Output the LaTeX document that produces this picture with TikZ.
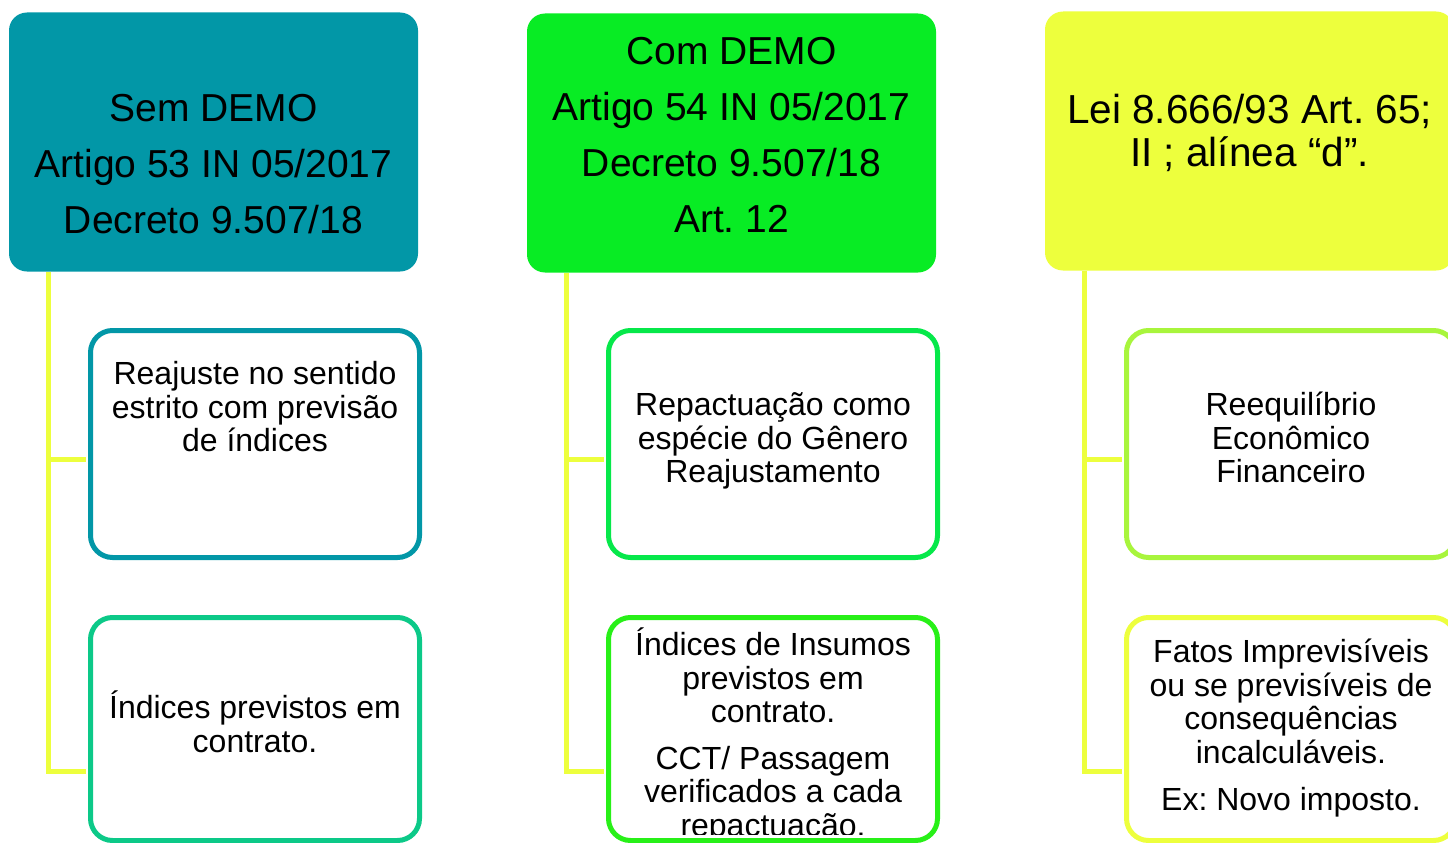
\documentclass[tikz,border=0pt]{standalone}
\usepackage{fontspec}
\setmainfont{Liberation Sans}
\frenchspacing
\definecolor{teal1}{RGB}{2,151,167}
\definecolor{green1}{RGB}{8,236,36}
\definecolor{yel1}{RGB}{237,255,61}
\definecolor{bAone}{RGB}{2,151,167}
\definecolor{bAtwo}{RGB}{12,201,136}
\definecolor{bBone}{RGB}{6,232,74}
\definecolor{bBtwo}{RGB}{40,240,24}
\definecolor{bCone}{RGB}{168,245,60}
\definecolor{bCtwo}{RGB}{237,255,61}
\tikzset{
  topbox/.style={rounded corners=18pt, minimum width=409pt, minimum height=259pt, inner sep=0pt},
  subbox/.style={draw, line width=5pt, rounded corners=22pt, minimum width=329pt, inner sep=0pt, fill=white},
  link/.style={draw=yel1, line width=5pt, shorten >=2.5pt},
  bigtxt/.style={inner sep=0pt, anchor=base, font=\fontsize{39}{56}\selectfont},
  lawtxt/.style={inner sep=0pt, anchor=base, font=\fontsize{40.5}{43}\selectfont},
  smalltxt/.style={inner sep=0pt, anchor=base, font=\fontsize{32}{33.5}\selectfont},
}
\begin{document}
\begin{tikzpicture}[x=1pt,y=-1pt]
\useasboundingbox (0,0) rectangle (1448,843);
\clip (0,0) rectangle (1448,843);
% top boxes
\node[topbox, fill=teal1] (top1) at (213.5,142) {};
\node[topbox, fill=green1] (top2) at (731.5,143) {};
\node[topbox, fill=yel1] (top3) at (1249.5,141) {};
% link start points
\coordinate (l1) at (48.5,271.5);
\coordinate (l2) at (566.5,272.5);
\coordinate (l3) at (1084.5,270.5);
% child boxes
\node[subbox, draw=bAone, minimum height=227pt] (a1) at (255,444) {};
\node[subbox, draw=bAtwo, minimum height=223pt] (a2) at (255,729) {};
\node[subbox, draw=bBone, minimum height=227pt] (b1) at (773,444) {};
\node[subbox, draw=bBtwo, minimum height=223pt] (b2) at (773,729) {};
\node[subbox, draw=bCone, minimum height=227pt] (c1) at (1291,444) {};
\node[subbox, draw=bCtwo, minimum height=223pt] (c2) at (1291,729) {};
% links
\draw[link] (l1) |- ([yshift=-15.5pt]a1.west);
\draw[link] (l1) |- ([yshift=-42pt]a2.west);
\draw[link] (l2) |- ([yshift=-15.5pt]b1.west);
\draw[link] (l2) |- ([yshift=-42pt]b2.west);
\draw[link] (l3) |- ([yshift=-15.5pt]c1.west);
\draw[link] (l3) |- ([yshift=-42pt]c2.west);
% texts
\node[bigtxt] (t1txt) at (213.5,121.5) {\parbox[t]{400pt}{\centering Sem DEMO\\Artigo 53 IN 05/2017\\Decreto 9.507/18}};
\node[bigtxt] (t2txt) at (731.5,64.5) {\parbox[t]{400pt}{\centering Com DEMO\\Artigo 54 IN 05/2017\\Decreto 9.507/18\\Art. 12}};
\node[lawtxt] (t3txt) at (1249.5,123) {\parbox[t]{400pt}{\centering Lei 8.666/93 Art. 65;\\II ; alínea “d”.}};
\node[smalltxt] (a1txt) at (255,384.5) {\parbox[t]{320pt}{\centering Reajuste no sentido\\estrito com previsão\\de índices}};
\node[smalltxt] (a2txt) at (255,718.5) {\parbox[t]{320pt}{\centering Índices previstos em\\contrato.}};
\node[smalltxt] (b1txt) at (773,415.5) {\parbox[t]{320pt}{\centering Repactuação como\\espécie do Gênero\\Reajustamento}};
\begin{scope}
\clip (600,600) rectangle (950,834);
\node[smalltxt] (b2txt) at (773,655.5) {\parbox[t]{320pt}{\centering Índices de Insumos\\previstos em\\contrato.\\[13pt]CCT/ Passagem\\verificados a cada\\repactuação.}};
\end{scope}
\node[smalltxt] (c1txt) at (1291,415.5) {\parbox[t]{320pt}{\centering Reequilíbrio\\Econômico\\Financeiro}};
\node[smalltxt] (c2txt) at (1291,662.5) {\parbox[t]{320pt}{\centering Fatos Imprevisíveis\\ou se previsíveis de\\consequências\\incalculáveis.\\[14pt]Ex: Novo imposto.}};
\end{tikzpicture}
\end{document}
